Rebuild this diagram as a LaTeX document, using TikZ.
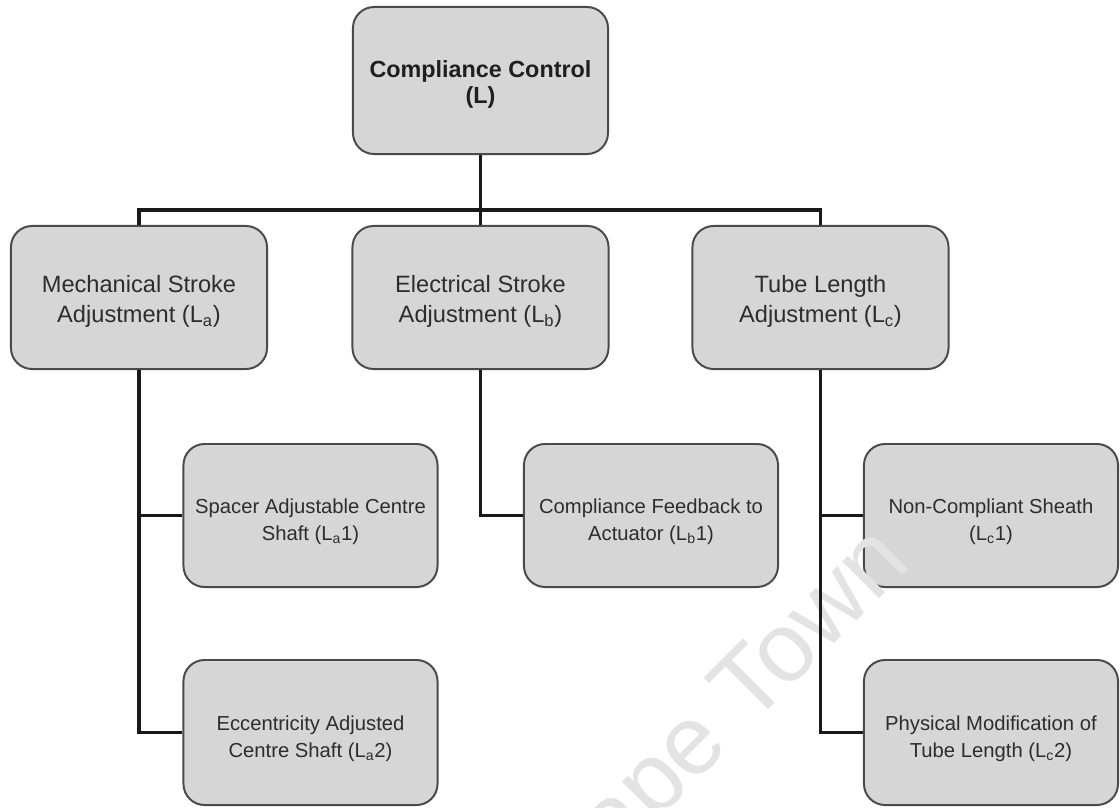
\documentclass[tikz,border=0pt]{standalone}
\usepackage{fontspec}
\setmainfont{Liberation Sans}
\definecolor{boxfill}{RGB}{214,214,214}
\definecolor{boxedge}{RGB}{74,74,74}
\definecolor{txt}{RGB}{45,45,45}
\definecolor{wmark}{RGB}{227,227,227}
\begin{document}
\begin{tikzpicture}[x=0.025cm,y=-0.025cm,
  box/.style={draw=boxedge, line width=1.4pt, fill=boxfill, rounded corners=15pt,
    inner sep=0pt},
  rootbox/.style={box, minimum width=255*0.7113pt, minimum height=147*0.7113pt},
  midbox/.style={box, minimum width=256*0.7113pt, minimum height=143*0.7113pt},
  leafbox/.style={box, minimum width=254*0.7113pt, minimum height=143*0.7113pt},
  boxtext/.style={align=center, text=txt, inner sep=0pt},
  roottext/.style={boxtext, yshift=-2.8pt, text=black!88,
    font=\fontsize{16.6}{18.8}\selectfont\bfseries},
  midtext/.style={boxtext, yshift=-2.8pt, font=\fontsize{16.8}{21.3}\selectfont},
  leaftext/.style={boxtext, yshift=-4.3pt, font=\fontsize{14.4}{19.2}\selectfont},
  link/.style={draw=black!90, line width=2.2pt}]
\useasboundingbox (0,0) rectangle (1120,808);

% root
\node[rootbox] (top) at (480.5,80.5) {};
\node[roottext] (topt) at (top.center) {Compliance Control\\(L)};

% second level
\node[midbox] (mech) at (139,297.5) {};
\node[midtext] (mecht) at (mech.center) {Mechanical Stroke\\Adjustment (L\textsubscript{a})};
\node[midbox] (elec) at (480.5,297.5) {};
\node[midtext] (elect) at (elec.center) {Electrical Stroke\\Adjustment (L\textsubscript{b})};
\node[midbox] (tube) at (820.5,297.5) {};
\node[midtext] (tubet) at (tube.center) {Tube Length\\Adjustment (L\textsubscript{c})};

% third level
\node[leafbox] (spacer) at (310.5,515.5) {};
\node[leaftext] (spacert) at (spacer.center) {Spacer Adjustable Centre\\Shaft (L\textsubscript{a}1)};
\node[leafbox] (feed) at (651,515.5) {};
\node[leaftext] (feedt) at (feed.center) {Compliance Feedback to\\Actuator (L\textsubscript{b}1)};
\node[leafbox] (sheath) at (991,515.5) {};
\node[leaftext] (sheatht) at (sheath.center) {Non-Compliant Sheath\\(L\textsubscript{c}1)};
\node[leafbox, minimum height=145*0.7113pt] (ecc) at (310.5,732.5) {};
\node[leaftext] (ecct) at (ecc.center) {Eccentricity Adjusted\\Centre Shaft (L\textsubscript{a}2)};
\node[leafbox, minimum height=145*0.7113pt] (phys) at (991,732.5) {};
\node[leaftext] (physt) at (phys.center) {Physical Modification of\\Tube Length (L\textsubscript{c}2)};

% faint watermark lettering, laid over the boxes but under the lines
\node[anchor=base west, rotate=45, text=wmark, inner sep=0pt,
  font=\fontsize{69.9}{72}\selectfont] (wm) at (565,913) {Cape Town};

% connectors
\coordinate (bus) at (0,210);
\draw[link] (top.south) -- (top.south |- bus);
\draw[link] (mech.north) -- (mech.north |- bus) -| (tube.north);
\draw[link] (elec.north) -- (elec.north |- bus);

\draw[link] (mech.south) |- (ecc.west);
\draw[link] (mech.south |- spacer.west) -- (spacer.west);
\draw[link] (elec.south) |- (feed.west);
\draw[link] (tube.south) |- (phys.west);
\draw[link] (tube.south |- sheath.west) -- (sheath.west);
\end{tikzpicture}
\end{document}
